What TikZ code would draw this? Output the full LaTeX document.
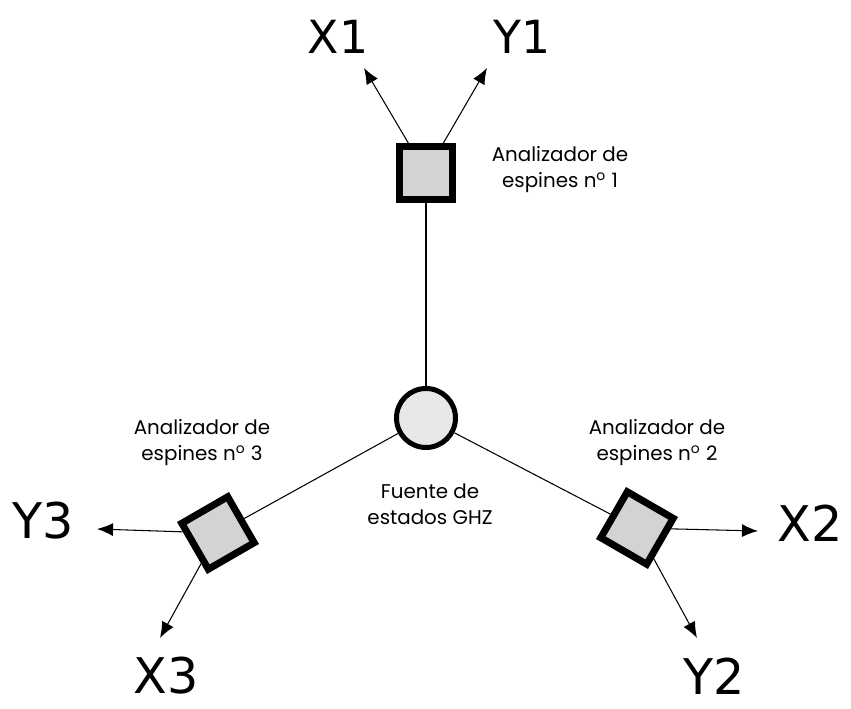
\documentclass[tikz,border=0pt]{standalone}
\usepackage{fontspec}
\setmainfont{Poppins}
\newfontfamily\outfont{DejaVu Sans}
\usetikzlibrary{arrows.meta}
\definecolor{boxgray}{RGB}{209,211,212}
\definecolor{srcgray}{RGB}{230,231,232}
\begin{document}
\begin{tikzpicture}[
    analyser/.style={rectangle,draw,line width=0.14cm,fill=boxgray,minimum size=1.06cm,inner sep=0pt},
    source/.style={circle,draw,line width=0.1cm,fill=srcgray,minimum size=1.18cm,inner sep=0pt},
    outcome/.style={font=\outfont\fontsize{28}{32}\selectfont,inner sep=0pt},
    topout/.style={outcome,font=\outfont\fontsize{26}{30}\selectfont},
    caption/.style={font=\fontsize{11.3}{14.8}\selectfont,align=center,inner sep=0pt},
    link/.style={line width=0.6pt},
    meas/.style={line width=0.6pt,-{Latex[length=3.2mm,width=2.6mm]}}]
    \useasboundingbox (0,0) rectangle (17.02,14.16);
    \node (ghz) at (8.52,5.80) [source] {};
    \node (s1) at (8.52,10.70) [analyser] {};
    \node (s2) at (12.74,3.60) [analyser,rotate=-30] {};
    \node (s3) at (4.36,3.50) [analyser,rotate=30] {};
    \draw[link] (ghz) -- (s1);
    \draw[link] (ghz) -- (s2);
    \draw[link] (ghz) -- (s3);
    \coordinate (x1tip) at (7.28,12.80);
    \coordinate (y1tip) at (9.74,12.80);
    \coordinate (x2tip) at (15.16,3.54);
    \coordinate (y2tip) at (13.94,1.40);
    \coordinate (x3tip) at (3.20,1.40);
    \coordinate (y3tip) at (1.94,3.58);
    \draw[meas] (s1) -- (x1tip);
    \draw[meas] (s1) -- (y1tip);
    \draw[meas] (s2) -- (x2tip);
    \draw[meas] (s2) -- (y2tip);
    \draw[meas] (s3) -- (x3tip);
    \draw[meas] (s3) -- (y3tip);
    \node (x1) at (6.76,13.42) [topout] {X1};
    \node (y1) at (10.44,13.42) [topout] {Y1};
    \node (x2) at (16.20,3.70) [outcome] {X2};
    \node (y2) at (14.28,0.64) [outcome] {Y2};
    \node (x3) at (3.32,0.64) [outcome] {X3};
    \node (y3) at (0.86,3.74) [outcome] {Y3};
    \node (a1) at (11.20,10.76) [caption] {Analizador de\\espines n\textsuperscript{o} 1};
    \node (a2) at (13.14,5.30) [caption] {Analizador de\\espines n\textsuperscript{o} 2};
    \node (a3) at (4.04,5.30) [caption] {Analizador de\\espines n\textsuperscript{o} 3};
    \node (src) at (8.60,4.08) [caption] {Fuente de\\estados GHZ};
\end{tikzpicture}
\end{document}
